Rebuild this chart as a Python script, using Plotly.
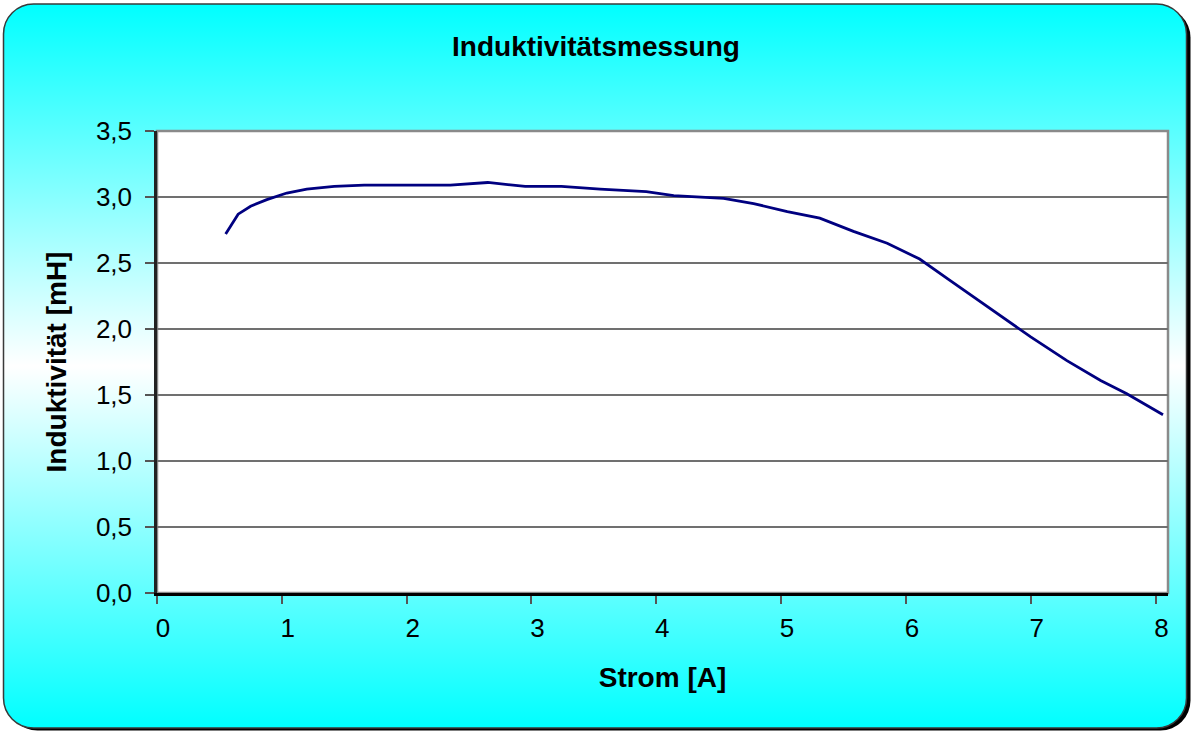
import base64
import plotly.graph_objects as go

# Data
strom_a = [0.55, 0.65, 0.75, 0.88, 1.04, 1.20, 1.42, 1.66, 1.84, 2.08, 2.35, 2.65,
           2.95, 3.07, 3.24, 3.55, 3.92, 4.14, 4.30, 4.54, 4.78, 5.05, 5.31, 5.58,
           5.85, 6.11, 6.35, 6.65, 7.00, 7.29, 7.56, 7.77, 8.06]
induktivitaet_mh = [2.72, 2.87, 2.93, 2.98, 3.03, 3.06, 3.08, 3.09, 3.09, 3.09, 3.09, 3.11,
                    3.08, 3.08, 3.08, 3.06, 3.04, 3.01, 3.00, 2.99, 2.95, 2.89, 2.84, 2.74,
                    2.65, 2.53, 2.37, 2.17, 1.94, 1.76, 1.61, 1.51, 1.35]

title_text = "Induktivitätsmessung"
x_title = "Strom [A]"
y_title = "Induktivität [mH]"

W, H = 1192, 731
ML, MR, MT, MB = 157, 24, 131, 138
PW, PH = W - ML - MR, H - MT - MB

svg = f'''<svg xmlns="http://www.w3.org/2000/svg" width="{W}" height="{H}" viewBox="0 0 {W} {H}">
<defs><linearGradient id="g" x1="0" y1="0" x2="0" y2="1">
<stop offset="0" stop-color="#00ffff"/><stop offset="0.5" stop-color="#ffffff"/><stop offset="1" stop-color="#00ffff"/>
</linearGradient></defs>
<rect x="7.5" y="7.5" width="1183" height="723" rx="30" ry="30" fill="#000000"/>
<rect x="3.5" y="4" width="1183" height="724" rx="30" ry="30" fill="url(#g)" stroke="#3a3a3a" stroke-width="1.5"/>
</svg>'''
src = "data:image/svg+xml;base64," + base64.b64encode(svg.encode()).decode()

fig = go.Figure()
fig.add_trace(go.Scatter(x=strom_a, y=induktivitaet_mh, mode="lines",
                         line=dict(color="#000080", width=2.8), showlegend=False))

fig.add_layout_image(dict(source=src, xref="paper", yref="paper",
                          x=-ML / PW, y=1 + MT / PH, sizex=W / PW, sizey=H / PH,
                          xanchor="left", yanchor="top", sizing="stretch", layer="below"))
fig.add_shape(type="rect", xref="paper", yref="paper", x0=0, x1=1, y0=0, y1=1,
              fillcolor="white", line=dict(color="#8a8a8a", width=2.5), layer="below")

font = "Liberation Sans, Arial, sans-serif"
fig.update_layout(
    width=W, height=H,
    margin=dict(l=ML, r=MR, t=MT, b=MB),
    paper_bgcolor="rgba(0,0,0,0)", plot_bgcolor="rgba(0,0,0,0)",
    separators=", ",
    font=dict(family=font, color="black", size=26),
    title=dict(text="<b>" + title_text + "</b>", x=0.5, xanchor="center",
               y=1 - 46 / H, yanchor="middle", font=dict(size=28)),
    xaxis=dict(range=[0, 8.1], dtick=1, tick0=0, showgrid=False, zeroline=False,
               showline=True, linecolor="black", linewidth=2.5,
               ticks="outside", ticklen=8, tickwidth=1.5, tickcolor="#555",
               tickfont=dict(size=26), ticklabelstandoff=2, ticklabelshift=6,
               title=dict(text="<b>" + x_title + "</b>", font=dict(size=28), standoff=26)),
    yaxis=dict(range=[0, 3.5], dtick=0.5, tick0=0, tickformat=".1f",
               showgrid=True, gridcolor="#707070", gridwidth=2, zeroline=False,
               showline=True, linecolor="#222", linewidth=2.5,
               ticks="outside", ticklen=9, tickwidth=1.5, tickcolor="#555",
               tickfont=dict(size=26), ticklabelstandoff=8,
               title=dict(text="<b>" + y_title + "</b>", font=dict(size=28), standoff=22)),
)

fig.write_html("out.html", config={"displayModeBar": False},
               post_script="document.body.style.margin='0';document.body.style.overflow='hidden';")
